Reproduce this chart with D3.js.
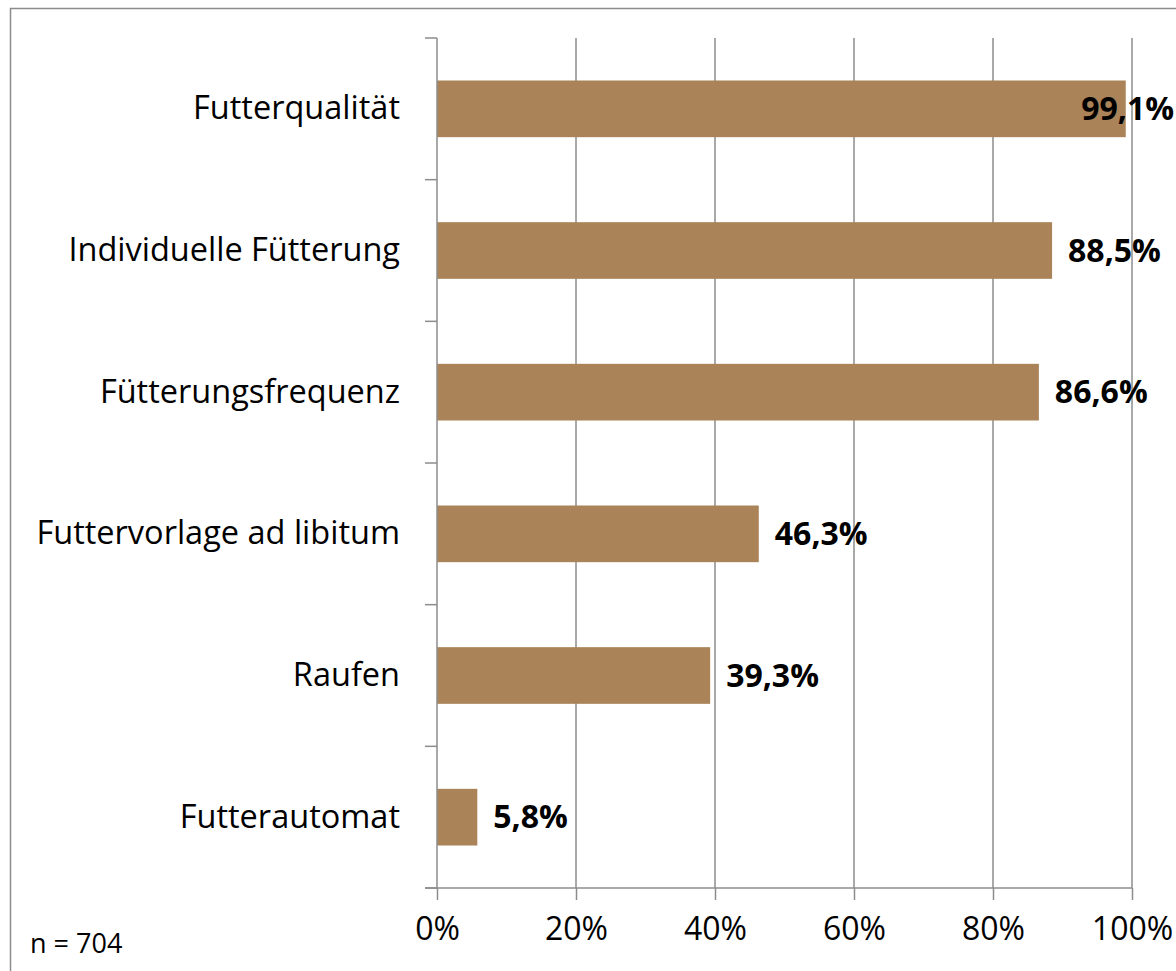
<!DOCTYPE html>
<html>
<head>
<meta charset="utf-8">
<script src="https://cdn.jsdelivr.net/npm/d3@7"></script>
<style>
  body { margin: 0; background: #fff; }
  svg { display: block; font-family: "Open Sans", sans-serif; }
</style>
</head>
<body>
<svg id="chart"></svg>
<script>
// chart data
const categories = ['Futterqualität', 'Individuelle Fütterung', 'Fütterungsfrequenz',
  'Futtervorlage ad libitum', 'Raufen', 'Futterautomat'];
const values = [99.1, 88.5, 86.6, 46.3, 39.3, 5.8];
const xTicks = [0, 20, 40, 60, 80, 100];
const note = 'n = 704';

const W = 1176, H = 971;
const margin = {top: 38, right: 44, bottom: 83, left: 437};
const width = W - margin.left - margin.right;
const height = H - margin.top - margin.bottom;
const grey = '#8c8c8c';
const font = '"Open Sans", sans-serif';

const svg = d3.select('#chart').attr('width', W).attr('height', H);

// outer chart frame
svg.append('rect')
  .attr('x', 10.5).attr('y', 8.5)
  .attr('width', W).attr('height', H)
  .attr('fill', 'none').attr('stroke', grey).attr('stroke-width', 1.5);

const g = svg.append('g').attr('transform', `translate(${margin.left},${margin.top})`);

const xScale = d3.scaleLinear([0, 100], [0, width]);
const yScale = d3.scaleBand(categories, [0, height]).paddingInner(0.6).paddingOuter(0.3);

// vertical gridlines
g.selectAll('.grid')
  .data(xTicks.slice(1))
  .join('line')
  .attr('class', 'grid')
  .attr('x1', d => xScale(d)).attr('x2', d => xScale(d))
  .attr('y1', 0).attr('y2', height)
  .attr('stroke', grey).attr('stroke-width', 1.5);

// bars
g.selectAll('.bar')
  .data(values)
  .join('rect')
  .attr('class', 'bar')
  .attr('x', 0)
  .attr('y', (d, i) => yScale(categories[i]))
  .attr('width', d => xScale(d))
  .attr('height', yScale.bandwidth())
  .attr('fill', '#aa8358');

// y axis with ticks between categories
const yAxis = d3.axisLeft(yScale).tickSize(0).tickPadding(37);
const yAxisG = g.append('g').call(yAxis);
yAxisG.select('.domain').remove();
yAxisG.selectAll('text')
  .attr('font-size', 32.5).attr('font-family', font).attr('fill', '#000');

const step = yScale.step();
const boundaries = d3.range(categories.length + 1).map(i => i * step);
g.selectAll('.ytick')
  .data(boundaries)
  .join('line')
  .attr('class', 'ytick')
  .attr('x1', -12).attr('x2', 0)
  .attr('y1', d => d).attr('y2', d => d)
  .attr('stroke', grey).attr('stroke-width', 1.5);
g.append('line')
  .attr('x1', 0).attr('x2', 0).attr('y1', 0).attr('y2', height)
  .attr('stroke', grey).attr('stroke-width', 1.5);

// x axis
const xAxis = d3.axisBottom(xScale).tickValues(xTicks).tickSize(12).tickPadding(17)
  .tickFormat(d => d + '%');
const xAxisG = g.append('g').attr('transform', `translate(0,${height})`).call(xAxis);
xAxisG.select('.domain').attr('d', `M-12,0H${width}`).attr('stroke', grey).attr('stroke-width', 1.5);
xAxisG.selectAll('.tick line').attr('stroke', grey).attr('stroke-width', 1.5);
xAxisG.selectAll('text')
  .attr('font-size', 32).attr('font-family', font).attr('fill', '#000');

// value labels
g.selectAll('.val')
  .data(values)
  .join('text')
  .attr('class', 'val')
  .attr('x', d => xScale(d) + 16)
  .attr('y', (d, i) => yScale(categories[i]) + yScale.bandwidth() / 2)
  .attr('dy', '0.35em')
  .attr('font-size', 32).attr('font-weight', 'bold')
  .text(d => d.toFixed(1).replace('.', ',') + '%')
  .each(function(d) {
    // keep the label inside the picture (pulled back over the bar if too long)
    const len = this.getComputedTextLength();
    const maxX = W - margin.left - 2 - len;
    if (xScale(d) + 16 > maxX) d3.select(this).attr('x', maxX);
  });

svg.append('text')
  .attr('x', 30).attr('y', 953)
  .attr('font-size', 27)
  .text(note);
</script>
</body>
</html>
